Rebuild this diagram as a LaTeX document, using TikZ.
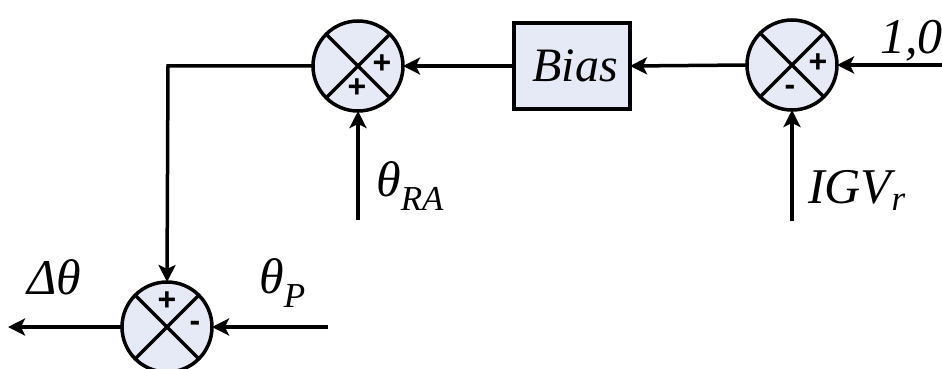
\documentclass[tikz,border=0pt]{standalone}
\usepackage{fontspec}
\setmainfont{Liberation Serif}
\newfontfamily\serifit{Liberation Serif}
\newfontfamily\signfont{Liberation Sans}
\usetikzlibrary{arrows.meta}
\definecolor{boxfill}{HTML}{E6EAF6}
\newcommand{\bigit}{\fontsize{48}{50}\selectfont\serifit\itshape}
\newcommand{\lblit}{\fontsize{50}{52}\selectfont\serifit\itshape}
\newcommand{\sgnfont}{\fontsize{32}{34}\selectfont\signfont\bfseries}
\tikzset{
  sumnode/.style={circle,draw,line width=3.5pt,fill=boxfill,minimum size=90pt,inner sep=0pt,outer sep=0pt},
  blocknode/.style={rectangle,draw,line width=3.5pt,fill=boxfill,minimum width=116pt,minimum height=86pt,inner sep=0pt,outer sep=0pt},
  conn/.style={line width=3.5pt,-{Stealth[length=17pt,width=17pt,inset=4pt]}},
  plainline/.style={line width=3.5pt},
  lbl/.style={inner sep=0pt,anchor=base west},
  sgn/.style={inner sep=0pt}
}
\begin{document}
\begin{tikzpicture}[x=1pt,y=-1pt]
\useasboundingbox (0,0) rectangle (942,369);
% summing junctions and block
\node[sumnode] (s1) at (358,66) {};
\node[sumnode] (s2) at (792,65) {};
\node[sumnode] (s3) at (167,327) {};
\node[blocknode] (bias) at (572,66) {\hspace{6pt}\bigit Bias};
\foreach \s in {s1,s2,s3}{
  \draw[plainline] (\s.north west) -- (\s.south east);
  \draw[plainline] (\s.north east) -- (\s.south west);
}
% signs
\node[sgn] (p1a) at (382,64) {\sgnfont +};
\node[sgn] (p1b) at (357,88) {\sgnfont +};
\node[sgn] (p2a) at (818,63) {\sgnfont +};
\node[sgn] (m2b) at (790,90) {\sgnfont -};
\node[sgn] (p3a) at (167,301) {\sgnfont +};
\node[sgn] (m3b) at (195,326) {\sgnfont -};
% free ends
\coordinate (in10) at (944,65);
\coordinate (inigv) at (792,221);
\coordinate (inra) at (358,220);
\coordinate (corner) at (168,66);
\coordinate (inp) at (328,327);
\coordinate (out) at (8,327);
% connectors
\draw[conn] (in10) -- (s2.east);
\draw[conn] (inigv) -- (s2.south);
\draw[conn] (s2.west) -- (bias.east);
\draw[conn] (bias.west) -- (s1.east);
\draw[conn] (inra) -- (s1.south);
\draw[conn] (s1.west) -- (corner) -- (s3.north);
\draw[conn] (inp) -- (s3.east);
\draw[conn] (s3.west) -- (out);
% labels
\node[lbl] (l10) at (880,54) {\lblit 1,0};
\node[lbl] (lra) at (376,196) {\lblit θ\textsubscript{RA}};
\node[lbl] (ligv) at (808,203) {\lblit IGV\textsubscript{r}};
\node[lbl] (ld) at (27,294) {\lblit Δθ};
\node[lbl] (lp) at (259,293) {\lblit θ\textsubscript{P}};
\end{tikzpicture}
\end{document}
